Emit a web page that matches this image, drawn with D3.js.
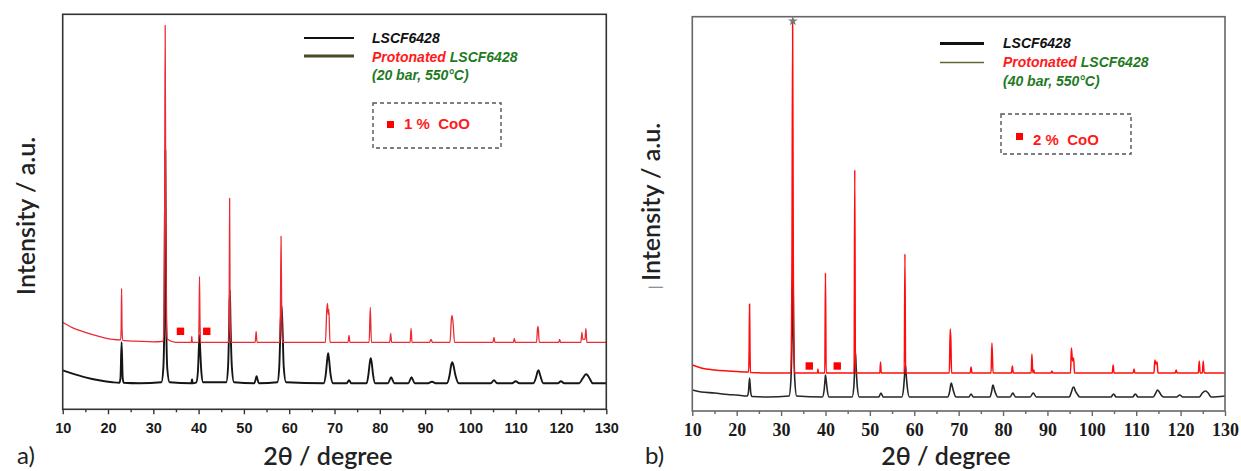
<!DOCTYPE html>
<html>
<head>
<meta charset="utf-8">
<script src="https://cdn.jsdelivr.net/npm/d3@7/dist/d3.min.js"></script>
<style>
  html, body { margin: 0; padding: 0; background: #fff; }
  svg { display: block; }
  text { white-space: pre; }
</style>
</head>
<body>
<svg id="chart" width="1241" height="471"></svg>
<script>
// ---------------- DATA ----------------
const xMajorTicks = [10, 20, 30, 40, 50, 60, 70, 80, 90, 100, 110, 120, 130];
const xMinorTicks = [15, 25, 35, 45, 55, 65, 75, 85, 95, 105, 115, 125];

// Panel a) : LSCF6428 (black)  [2theta, intensity a.u.]
const leftLSCF = [
  [10, 39], [12, 36], [15, 32], [18, 29], [21, 27], [22.5, 26.5],
  [22.75, 31], [23.0, 67], [23.25, 31], [23.5, 26.5],
  [27, 26], [31.8, 27], [32.2, 40], [32.45, 90], [32.65, 259], [32.85, 90], [33.1, 40], [33.6, 27],
  [38.4, 26], [38.55, 30], [38.7, 26],
  [39.5, 27], [39.85, 38], [40.05, 60], [40.2, 74], [40.35, 60], [40.6, 38], [41.0, 27],
  [46.1, 27], [46.5, 42], [46.75, 85], [46.9, 119], [47.05, 85], [47.35, 42], [47.8, 27],
  [52.3, 26], [52.6, 30], [52.8, 33], [53.0, 30], [53.3, 26],
  [57.4, 27], [57.8, 42], [58.1, 85], [58.3, 104], [58.5, 85], [58.8, 42], [59.3, 27],
  [67.6, 26], [68.1, 36], [68.4, 50], [68.6, 56], [68.8, 50], [69.1, 36], [69.7, 26],
  [72.7, 26], [73.2, 29], [73.7, 26],
  [77.1, 26], [77.5, 35], [77.8, 47], [78.0, 51], [78.2, 47], [78.5, 35], [79.0, 26],
  [81.8, 26], [82.5, 32], [83.2, 26],
  [86.3, 26], [87.0, 32], [87.7, 26],
  [90.5, 26], [91.5, 27.5], [92.5, 26],
  [94.8, 26], [95.4, 34], [95.75, 44], [96.0, 47], [96.25, 44], [96.7, 34], [97.4, 26],
  [104.5, 26], [105.2, 29], [105.9, 26],
  [109.2, 26], [110.0, 28], [110.8, 26],
  [113.9, 26], [114.5, 32], [114.85, 38], [115.05, 39], [115.4, 34], [116.1, 26],
  [119.3, 26], [120.0, 28], [120.7, 26],
  [124.0, 26], [124.8, 31], [125.5, 35], [125.9, 34], [126.4, 30], [127.0, 26],
  [130, 26]
];

// Panel a) : Protonated LSCF6428, 20 bar (red)
const leftProton = [
  [10, 87], [12, 82], [15, 77], [18, 73], [21, 70], [22.8, 69.5],
  [22.9, 80], [23.0, 121], [23.1, 80], [23.25, 69],
  [27, 68], [30, 67.5], [32.1, 68], [32.35, 80], [32.5, 200], [32.62, 384], [32.75, 200], [32.9, 90], [33.1, 70],
  [35, 67], [38.4, 67], [38.5, 73], [38.6, 67],
  [40.0, 67], [40.1, 90], [40.2, 133], [40.3, 90], [40.45, 67],
  [46.65, 67], [46.75, 100], [46.85, 211], [46.95, 100], [47.1, 67],
  [52.5, 67], [52.7, 78], [52.9, 67],
  [57.95, 67], [58.08, 110], [58.2, 173], [58.32, 110], [58.5, 67],
  [68.0, 67], [68.3, 100], [68.45, 106], [68.6, 95], [68.75, 100], [69.0, 67],
  [73.0, 67], [73.2, 74], [73.4, 67],
  [77.65, 67], [77.9, 102], [78.15, 67],
  [82.2, 67], [82.4, 76], [82.6, 67],
  [86.7, 67], [86.9, 81], [87.1, 67],
  [91.0, 67], [91.3, 70], [91.6, 67],
  [95.5, 67], [95.8, 90], [95.95, 94], [96.2, 85], [96.5, 67],
  [105.0, 67], [105.2, 72], [105.4, 67],
  [109.5, 67], [109.7, 71], [109.9, 67],
  [114.6, 67], [114.8, 80], [114.95, 83], [115.2, 67],
  [119.5, 67], [119.7, 70], [119.9, 67],
  [124.4, 67], [124.6, 77], [124.8, 70], [125.3, 70], [125.5, 81], [125.7, 67],
  [130, 67]
];

// Panel b) : LSCF6428 (black)
const rightLSCF = [
  [10, 21], [12, 19], [15, 18], [18, 16.5], [20, 16], [22.4, 15],
  [22.65, 19], [22.9, 33], [23.15, 19], [23.4, 14.5],
  [27, 14], [31.8, 15], [32.2, 30], [32.45, 70], [32.65, 146], [32.85, 70], [33.1, 30], [33.5, 15],
  [39.3, 14], [39.7, 21], [39.9, 31], [40.0, 36], [40.15, 31], [40.4, 21], [40.8, 14],
  [46.0, 14], [46.4, 25], [46.6, 45], [46.75, 59], [46.9, 45], [47.15, 25], [47.6, 14],
  [52.0, 14], [52.5, 18], [53.0, 14],
  [57.2, 14], [57.6, 23], [57.85, 38], [58.0, 46], [58.15, 38], [58.45, 23], [58.9, 14],
  [67.5, 14], [68.0, 20], [68.25, 27], [68.35, 28], [68.6, 24], [68.9, 19], [69.4, 14],
  [72.3, 14], [72.8, 17], [73.3, 14],
  [77.0, 14], [77.4, 19], [77.65, 25], [77.75, 26], [78.0, 22], [78.3, 18], [78.8, 14],
  [81.6, 14], [82.2, 18], [82.8, 14],
  [86.1, 14], [86.8, 18], [87.5, 14],
  [94.9, 14], [95.4, 19], [95.75, 23.5], [95.95, 24], [96.3, 20], [96.7, 17], [97.3, 14],
  [104.3, 14], [104.9, 17], [105.5, 14],
  [109.2, 14], [109.8, 17], [110.4, 14],
  [113.8, 14], [114.4, 18], [114.8, 21], [115.2, 19], [115.6, 16], [116.2, 14],
  [119.1, 14], [119.8, 16], [120.5, 14],
  [124.2, 14], [124.9, 18], [125.6, 20], [126.2, 18], [126.9, 14],
  [130, 15]
];

// Panel b) : Protonated LSCF6428, 40 bar (red)
const rightProton = [
  [10, 46], [12, 43], [15, 41], [18, 40], [20, 39.5], [22.7, 39],
  [22.8, 60], [22.9, 107], [23.0, 60], [23.1, 38.5],
  [27, 38], [32.2, 38], [32.45, 150], [32.6, 388], [32.75, 150], [33.0, 38],
  [38.2, 38], [38.3, 42], [38.4, 38],
  [39.85, 38], [40.0, 138], [40.15, 38],
  [46.45, 38], [46.6, 241], [46.75, 38],
  [52.25, 38], [52.4, 49], [52.55, 38],
  [57.75, 38], [57.9, 157], [58.05, 38],
  [67.9, 38], [68.1, 82], [68.25, 70], [68.4, 38],
  [72.6, 38], [72.8, 44], [73.0, 38],
  [77.3, 38], [77.5, 68], [77.75, 38],
  [81.9, 38], [82.1, 45], [82.3, 38],
  [86.35, 38], [86.5, 57], [86.7, 38], [86.9, 41], [87.1, 38],
  [90.8, 38], [91.0, 40], [91.2, 38],
  [95.2, 38], [95.4, 63], [95.65, 50], [95.9, 53], [96.1, 38],
  [104.6, 38], [104.8, 46], [105.0, 38],
  [109.3, 38], [109.5, 42], [109.7, 38],
  [114.0, 38], [114.2, 51], [114.45, 47], [114.7, 49], [114.9, 38],
  [118.8, 38], [119.0, 41], [119.2, 38],
  [124.0, 38], [124.2, 50], [124.4, 38], [124.9, 38], [125.1, 50], [125.3, 38],
  [130, 38]
];

// CoO reflections marked with red squares  [2theta, intensity]
const leftCoO = [[36.0, 78], [41.8, 78]];
const rightCoO = [[36.35, 45], [42.65, 45]];
// star marking the main reflection in panel b)
const rightStar = [[32.65, 390]];

// Text
const legendA = { sample: "LSCF6428", prot: "Protonated", protName: " LSCF6428", cond: "(20 bar, 550°C)", coo: "1 %  CoO", tag: "a)" };
const legendB = { sample: "LSCF6428", prot: "Protonated", protName: " LSCF6428", cond: "(40 bar, 550°C)", coo: "2 %  CoO", tag: "b)" };
const xTitle = "2θ / degree";
const yTitle = "Intensity / a.u.";

// ---------------- DRAWING ----------------
const svg = d3.select("#chart");
const titleFont = "Lato, 'Open Sans', sans-serif";

function drawPanel(cfg) {
  const g = svg.append("g");
  const x = d3.scaleLinear().domain([10, 130]).range([cfg.x0, cfg.x1]);
  const y = d3.scaleLinear().domain(cfg.yDomain).range([cfg.y1, cfg.y0]);

  const clipId = "clip" + cfg.id;
  svg.append("clipPath").attr("id", clipId).append("rect")
    .attr("x", cfg.x0).attr("y", cfg.y0 - 2).attr("width", cfg.x1 - cfg.x0).attr("height", cfg.y1 - cfg.y0 + 2);

  const line = d3.line().x(d => x(d[0])).y(d => y(d[1])).curve(d3.curveMonotoneX);
  const plot = g.append("g").attr("clip-path", `url(#${clipId})`);

  plot.append("path").datum(cfg.black).attr("d", line)
    .attr("fill", "none").attr("stroke", cfg.blackColor).attr("stroke-width", cfg.blackWidth).attr("stroke-linejoin", "round");
  plot.append("path").datum(cfg.red).attr("d", line)
    .attr("fill", "none").attr("stroke", cfg.redColor).attr("stroke-width", cfg.redWidth).attr("stroke-linejoin", "round");

  g.selectAll("rect.coo").data(cfg.coo).enter().append("rect").attr("class", "coo")
    .attr("x", d => x(d[0]) - 3.7).attr("y", d => y(d[1]) - 3.7)
    .attr("width", 7.4).attr("height", 7.4).attr("fill", "#ff0000");

  g.append("rect").attr("x", cfg.x0).attr("y", cfg.y0)
    .attr("width", cfg.x1 - cfg.x0).attr("height", cfg.y1 - cfg.y0)
    .attr("fill", "none").attr("stroke", cfg.frameColor).attr("stroke-width", 1.6);

  const axMaj = d3.axisBottom(x).tickValues(xMajorTicks).tickSize(5).tickSizeOuter(0).tickPadding(5);
  const axMin = d3.axisBottom(x).tickValues(xMinorTicks).tickSize(3).tickSizeOuter(0).tickFormat("");
  const gMaj = g.append("g").attr("transform", `translate(0,${cfg.y1})`).call(axMaj);
  const gMin = g.append("g").attr("transform", `translate(0,${cfg.y1})`).call(axMin);
  [gMaj, gMin].forEach(a => {
    a.select(".domain").remove();
    a.selectAll("line").attr("stroke", cfg.frameColor).attr("stroke-width", 1.4);
  });
  gMaj.selectAll("text")
    .attr("font-family", cfg.tickFont).attr("font-weight", "bold")
    .attr("font-size", cfg.tickSize).attr("fill", "#1a1a1a")
    .attr("y", cfg.tickY - cfg.y1).attr("dy", "0.35em");

  g.append("text").attr("x", cfg.xTitleX).attr("y", 465)
    .attr("text-anchor", "middle").attr("font-family", titleFont).attr("font-weight", 600)
    .attr("font-size", 25).attr("fill", "#222").text(xTitle);
  const yt = g.append("text").attr("transform", `translate(${cfg.yTitleX},${cfg.yTitleY}) rotate(-90)`)
    .attr("dy", "0.35em").attr("text-anchor", "middle").attr("font-weight", 600)
    .attr("font-family", titleFont).attr("font-size", 25).attr("fill", "#222");
  if (cfg.bar) yt.append("tspan").attr("font-size", 16).attr("font-weight", 400).attr("fill", "#777").text("| ");
  yt.append("tspan").text(yTitle);

  g.append("text").attr("x", cfg.tagX).attr("y", 464)
    .attr("font-family", titleFont).attr("font-size", 24).attr("fill", "#222")
    .text(cfg.legend.tag);

  const L = cfg.leg;
  g.append("line").attr("x1", L.lx0).attr("x2", L.lx1).attr("y1", L.y1).attr("y2", L.y1)
    .attr("stroke", "#111").attr("stroke-width", L.w1);
  g.append("line").attr("x1", L.lx0).attr("x2", L.lx1).attr("y1", L.y2).attr("y2", L.y2)
    .attr("stroke", L.olive).attr("stroke-width", L.w2);
  const lf = "'Liberation Sans', Arial, sans-serif";
  g.append("text").attr("x", L.tx).attr("y", L.b1).attr("font-family", lf).attr("font-weight", "bold")
    .attr("font-style", "italic").attr("font-size", 14).attr("fill", "#111").text(cfg.legend.sample);
  const t2 = g.append("text").attr("x", L.tx).attr("y", L.b2).attr("font-family", lf).attr("font-weight", "bold")
    .attr("font-style", "italic").attr("font-size", 14);
  t2.append("tspan").attr("fill", "#ff1a1a").text(cfg.legend.prot);
  t2.append("tspan").attr("fill", "#1f7a1f").text(cfg.legend.protName);
  g.append("text").attr("x", L.tx).attr("y", L.b3).attr("font-family", lf).attr("font-weight", "bold")
    .attr("font-style", "italic").attr("font-size", 14).attr("fill", "#1f7a1f").text(cfg.legend.cond);

  const B = cfg.box;
  g.append("rect").attr("x", B.x0).attr("y", B.y0).attr("width", B.x1 - B.x0).attr("height", B.y1 - B.y0)
    .attr("fill", "none").attr("stroke", "#555").attr("stroke-width", 1.4).attr("stroke-dasharray", "4,3");
  g.append("rect").attr("x", B.sx).attr("y", B.sy).attr("width", 7).attr("height", 7).attr("fill", "#ff0000");
  g.append("text").attr("x", B.tx).attr("y", B.tb).attr("font-family", lf).attr("font-weight", "bold")
    .attr("font-size", 15).attr("fill", "#ff1a1a").text(cfg.legend.coo);

  if (cfg.star) {
    g.selectAll("path.star").data(cfg.star).enter().append("path").attr("class", "star")
      .attr("d", d3.symbol(d3.symbolStar, 30))
      .attr("transform", d => `translate(${x(d[0])},${y(d[1])})`)
      .attr("fill", "#777");
  }
}

drawPanel({
  id: "A", x0: 62.7, x1: 606.3, y0: 14.3, y1: 409.3, yDomain: [0, 395],
  black: leftLSCF, red: leftProton, coo: leftCoO,
  blackColor: "#151515", blackWidth: 1.9, redColor: "#ec2a33", redWidth: 1.3,
  frameColor: "#333", tickFont: "'Liberation Sans', Arial, sans-serif", tickSize: 14.5, tickY: 428,
  xTitleX: 328, yTitleX: 26, yTitleY: 216, tagX: 17,
  legend: legendA,
  leg: { lx0: 304, lx1: 354, y1: 38, y2: 56, w1: 2.2, w2: 2.8, olive: "#4a4a28", tx: 372, b1: 43, b2: 62, b3: 80 },
  box: { x0: 373, x1: 501, y0: 103, y1: 148, sx: 387, sy: 121, tx: 404, tb: 129 }
});

drawPanel({
  id: "B", x0: 692.3, x1: 1225, y0: 16.7, y1: 411, yDomain: [0, 394.3],
  black: rightLSCF, red: rightProton, coo: rightCoO, star: rightStar,
  blackColor: "#262626", blackWidth: 1.6, redColor: "#ff0d0d", redWidth: 1.5,
  frameColor: "#666", tickFont: "'Liberation Serif', 'Times New Roman', serif", tickSize: 18, tickY: 430,
  xTitleX: 946, yTitleX: 651, yTitleY: 206, tagX: 645, bar: true,
  legend: legendB,
  leg: { lx0: 940, lx1: 984, y1: 43.5, y2: 62.5, w1: 3, w2: 1.6, olive: "#5b6b3a", tx: 1003, b1: 48, b2: 67, b3: 86 },
  box: { x0: 1001, x1: 1131, y0: 114, y1: 154, sx: 1016, sy: 133, tx: 1033, tb: 145 }
});
</script>
</body>
</html>
